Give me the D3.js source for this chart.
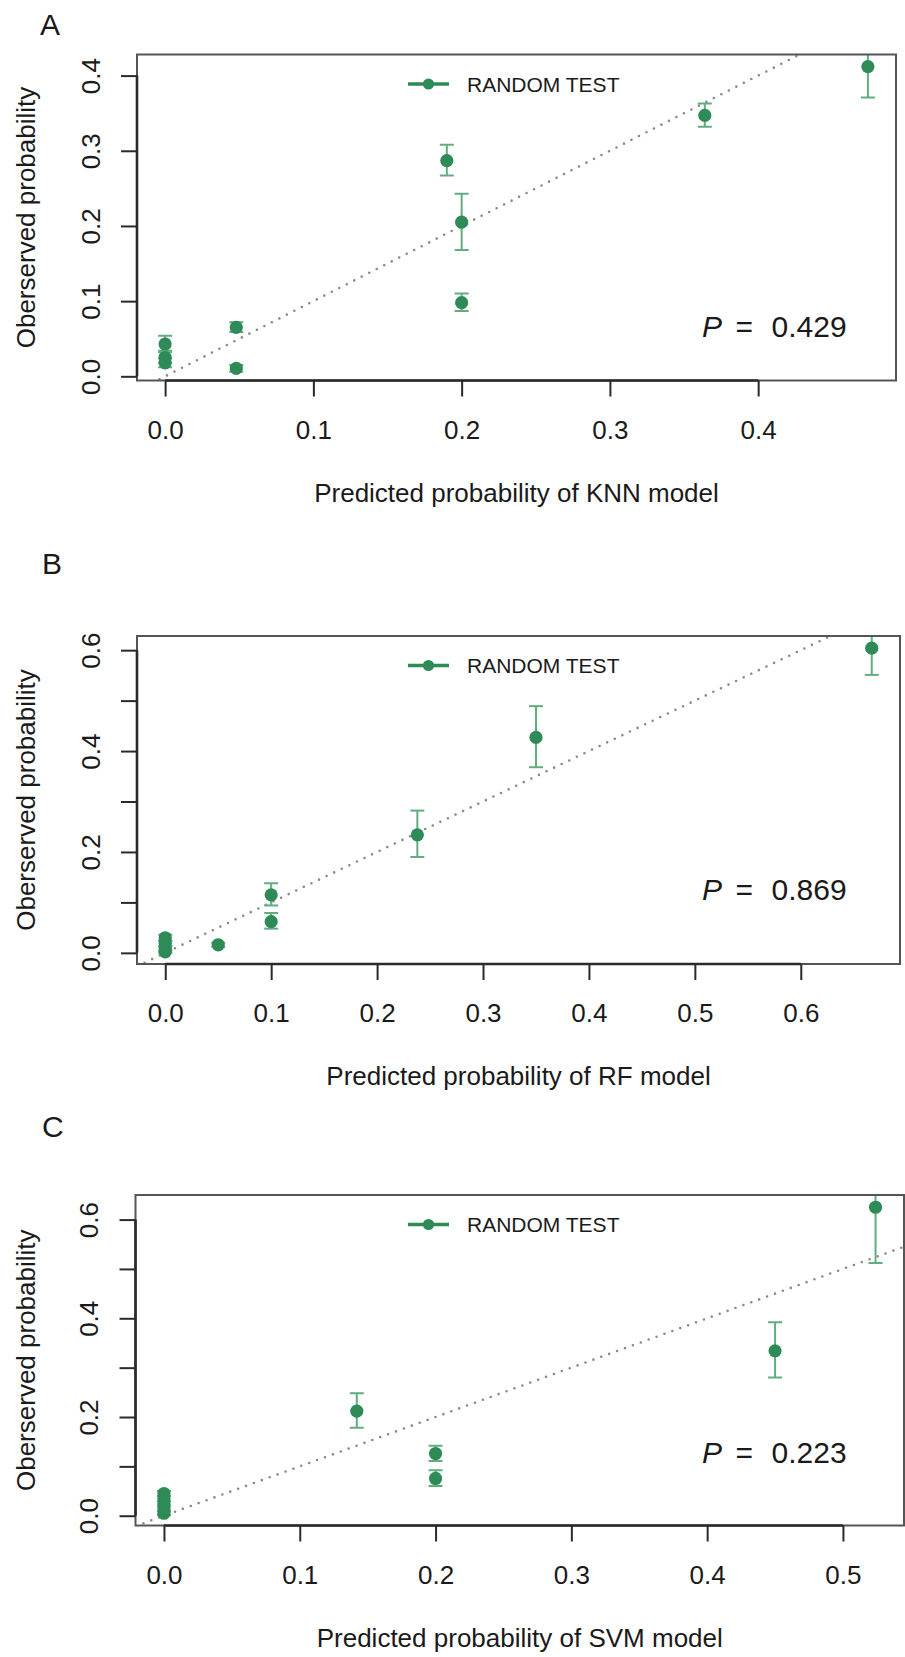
<!DOCTYPE html>
<html>
<head>
<meta charset="utf-8">
<title>Calibration curves - KNN, RF, SVM</title>
<script src="https://cdnjs.cloudflare.com/ajax/libs/d3/7.8.5/d3.min.js"></script>
<style>
    body { margin: 0; background: #ffffff; }
    text { font-family: "Liberation Sans", Arial, Helvetica, sans-serif; fill: #1a1a1a; }
</style>
</head>
<body>
<script>
    var knnPred = [0, 0, 0, 0.048, 0.048, 0.190, 0.200, 0.200, 0.364, 0.474];
    var knnObs  = [0.043, 0.025, 0.018, 0.065, 0.0105, 0.287, 0.205, 0.098, 0.347, 0.412];
    var knnLo   = [0.034, 0.018, 0.012, 0.059, 0.006, 0.267, 0.168, 0.087, 0.332, 0.371];
    var knnHi   = [0.054, 0.032, 0.024, 0.072, 0.015, 0.308, 0.243, 0.110, 0.363, 0.452];

    var rfPred = [0, 0, 0, 0, 0.050, 0.100, 0.100, 0.238, 0.350, 0.667];
    var rfObs  = [0.030, 0.019, 0.009, 0.002, 0.016, 0.115, 0.062, 0.234, 0.427, 0.604];
    var rfLo   = [0.024, 0.014, 0.005, 0.000, 0.012, 0.094, 0.048, 0.190, 0.368, 0.551];
    var rfHi   = [0.036, 0.024, 0.013, 0.004, 0.020, 0.138, 0.079, 0.282, 0.489, 0.660];

    var svmPred = [0, 0, 0, 0, 0, 0.142, 0.200, 0.200, 0.450, 0.524];
    var svmObs  = [0.045, 0.035, 0.025, 0.015, 0.005, 0.212, 0.126, 0.0755, 0.334, 0.625];
    var svmLo   = [0.040, 0.030, 0.020, 0.010, 0.001, 0.178, 0.111, 0.060, 0.280, 0.512];
    var svmHi   = [0.050, 0.040, 0.030, 0.020, 0.009, 0.248, 0.142, 0.092, 0.392, 0.690];

    // ticks and their labels
    var knnXTicks = [0, 0.1, 0.2, 0.3, 0.4];
    var knnYTicks = [0, 0.1, 0.2, 0.3, 0.4];
    var knnYLabels = ['0.0', '0.1', '0.2', '0.3', '0.4'];
    var rfXTicks = [0, 0.1, 0.2, 0.3, 0.4, 0.5, 0.6];
    var rfYTicks = [0, 0.1, 0.2, 0.3, 0.4, 0.5, 0.6];
    var rfYLabels = ['0.0', '', '0.2', '', '0.4', '', '0.6'];
    var svmXTicks = [0, 0.1, 0.2, 0.3, 0.4, 0.5];
    var svmYTicks = [0, 0.1, 0.2, 0.3, 0.4, 0.5, 0.6];
    var svmYLabels = ['0.0', '', '0.2', '', '0.4', '', '0.6'];

    var letters = ['A', 'B', 'C'];
    var xTitles = ['Predicted probability of KNN model', 'Predicted probability of RF model',
                   'Predicted probability of SVM model'];
    var yTitle = 'Oberserved probability';
    var legendLabel = 'RANDOM TEST';
    var pValues = ['0.429', '0.869', '0.223'];

    var width = 905;
    var height = 1657;
    var green = '#2e8b57';
    var barGreen = '#62ad80';

    var svg = d3.select('body').append('svg')
                .attr('width', width)
                .attr('height', height);

    // plot boxes and text anchors, measured on the picture
    var panels = [
        { pred: knnPred, obs: knnObs, lo: knnLo, hi: knnHi, xTicks: knnXTicks, yTicks: knnYTicks, yLabels: knnYLabels,
          box: { left: 137, right: 896, top: 54.5, bottom: 380.5 }, letterX: 40, letterY: 35, pY: 337 },
        { pred: rfPred, obs: rfObs, lo: rfLo, hi: rfHi, xTicks: rfXTicks, yTicks: rfYTicks, yLabels: rfYLabels,
          box: { left: 137, right: 900, top: 636, bottom: 964 }, letterX: 42, letterY: 574, pY: 900 },
        { pred: svmPred, obs: svmObs, lo: svmLo, hi: svmHi, xTicks: svmXTicks, yTicks: svmYTicks, yLabels: svmYLabels,
          box: { left: 135.5, right: 904, top: 1195, bottom: 1525.5 }, letterX: 42, letterY: 1137, pY: 1462.5 }
    ];

    // R style axis range: data extent widened by 4% on each side
    function rRange(vals) {
        var lo = d3.min(vals), hi = d3.max(vals), r = hi - lo;
        return [lo - 0.04 * r, hi + 0.04 * r];
    }

    panels.forEach(function(p, i) {
        var b = p.box;
        var x = d3.scaleLinear().domain(rRange(p.pred)).range([b.left, b.right]);
        var y = d3.scaleLinear().domain(rRange(p.obs)).range([b.bottom, b.top]);
        var g = svg.append('g').attr('class', 'panel');
        var rows = p.pred.map(function(d, k) {
            return { x: d, y: p.obs[k], lo: p.lo[k], hi: p.hi[k] };
        });

        g.append('clipPath').attr('id', 'clip' + i)
            .append('rect')
            .attr('x', b.left).attr('y', b.top)
            .attr('width', b.right - b.left).attr('height', b.bottom - b.top);

        var plot = g.append('g').attr('clip-path', 'url(#clip' + i + ')');

        // ideal line y = x
        var ends = [Math.min(x.domain()[0], y.domain()[0]), Math.max(x.domain()[1], y.domain()[1])];
        plot.append('line')
            .attr('x1', x(ends[0])).attr('y1', y(ends[0]))
            .attr('x2', x(ends[1])).attr('y2', y(ends[1]))
            .attr('stroke', '#8a8a8a')
            .attr('stroke-width', 2.6)
            .attr('stroke-linecap', 'round')
            .attr('stroke-dasharray', '0,8.4');

        // error bars
        var bars = plot.append('g').attr('class', 'errorbars')
                    .selectAll('g').data(rows).enter().append('g')
                    .attr('stroke', barGreen)
                    .attr('stroke-width', 2);
        bars.append('line')
            .attr('x1', function(d) { return x(d.x); })
            .attr('x2', function(d) { return x(d.x); })
            .attr('y1', function(d) { return y(d.lo); })
            .attr('y2', function(d) { return y(d.hi); });
        ['lo', 'hi'].forEach(function(key) {
            bars.append('line')
                .attr('x1', function(d) { return x(d.x) - 7; })
                .attr('x2', function(d) { return x(d.x) + 7; })
                .attr('y1', function(d) { return y(d[key]); })
                .attr('y2', function(d) { return y(d[key]); });
        });

        plot.append('g').attr('class', 'points')
            .selectAll('circle').data(rows).enter()
            .append('circle')
            .attr('cx', function(d) { return x(d.x); })
            .attr('cy', function(d) { return y(d.y); })
            .attr('r', 6.6)
            .attr('fill', green);

        // box round the plot region
        g.append('rect')
            .attr('x', b.left).attr('y', b.top)
            .attr('width', b.right - b.left).attr('height', b.bottom - b.top)
            .attr('fill', 'none')
            .attr('stroke', '#555')
            .attr('stroke-width', 2);

        // x axis
        var xAxis = g.append('g')
            .attr('transform', 'translate(0,' + b.bottom + ')')
            .call(d3.axisBottom(x).tickValues(p.xTicks).tickSize(16).tickPadding(24)
                  .tickFormat(d3.format('.1f')));
        xAxis.select('.domain').remove();
        xAxis.append('line')
            .attr('x1', x(p.xTicks[0])).attr('x2', x(p.xTicks[p.xTicks.length - 1]))
            .attr('stroke', '#2a2a2a').attr('stroke-width', 2.6);
        xAxis.selectAll('.tick line').attr('stroke', '#2a2a2a').attr('stroke-width', 2);
        xAxis.selectAll('.tick text')
            .attr('font-size', 26)
            .attr('font-family', null)
            .attr('fill', null);

        // y axis, labels turned like R's las = 0
        var yAxis = g.append('g')
            .attr('transform', 'translate(' + b.left + ',0)')
            .call(d3.axisLeft(y).tickValues(p.yTicks).tickSize(16)
                  .tickFormat(function(d, k) { return p.yLabels[k]; }));
        yAxis.select('.domain').remove();
        yAxis.append('line')
            .attr('y1', y(p.yTicks[0])).attr('y2', y(p.yTicks[p.yTicks.length - 1]))
            .attr('stroke', '#2a2a2a').attr('stroke-width', 2.6);
        yAxis.selectAll('.tick line').attr('stroke', '#2a2a2a').attr('stroke-width', 2);
        yAxis.selectAll('.tick text')
            .attr('x', 0)
            .attr('y', -37.5)
            .attr('dy', null)
            .attr('transform', 'rotate(-90)')
            .attr('text-anchor', 'middle')
            .attr('font-size', 26)
            .attr('font-family', null)
            .attr('fill', null);

        // titles
        g.append('text')
            .attr('x', (b.left + b.right) / 2)
            .attr('y', b.bottom + 121)
            .attr('text-anchor', 'middle')
            .attr('font-size', 26)
            .text(xTitles[i]);

        g.append('text')
            .attr('transform', 'translate(35,' + (b.top + b.bottom) / 2 + ') rotate(-90)')
            .attr('text-anchor', 'middle')
            .attr('font-size', 26)
            .text(yTitle);

        // legend
        var ly = b.top + 29.5;
        g.append('line')
            .attr('x1', 408).attr('x2', 449)
            .attr('y1', ly).attr('y2', ly)
            .attr('stroke', green)
            .attr('stroke-width', 3.4);
        g.append('circle')
            .attr('cx', 428.5).attr('cy', ly)
            .attr('r', 5.6)
            .attr('fill', green);
        g.append('text')
            .attr('x', 467).attr('y', ly)
            .attr('dy', '0.36em')
            .attr('font-size', 21)
            .text(legendLabel);

        // p value
        var pt = g.append('text')
            .attr('y', p.pY)
            .attr('font-size', 30);
        pt.append('tspan').attr('x', 702).attr('font-style', 'italic').text('P');
        pt.append('tspan').attr('x', 735.5).text('=');
        pt.append('tspan').attr('x', 771.5).text(pValues[i]);

        // panel letter
        g.append('text')
            .attr('x', p.letterX)
            .attr('y', p.letterY)
            .attr('font-size', 30)
            .attr('font-family', '"Open Sans", "DejaVu Sans", sans-serif')
            .attr('font-weight', 300)
            .text(letters[i]);
    });
</script>
</body>
</html>
